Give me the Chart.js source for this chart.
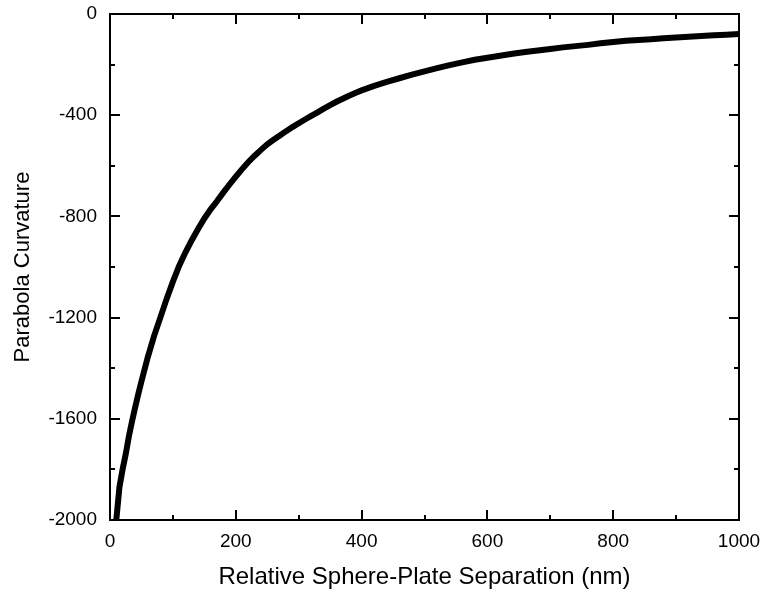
<!DOCTYPE html>
<html>
<head>
<meta charset="utf-8">
<script src="https://cdn.jsdelivr.net/npm/chart.js@4"></script>
<style>
  html, body { margin: 0; padding: 0; background: #fff; }
  #wrap { width: 762px; height: 594px; }
</style>
</head>
<body>
<div id="wrap"><canvas id="curv"></canvas></div>
<script>
// Separation (nm)
const separation = [
  10, 15, 20, 25, 30, 35, 40, 45, 50, 60, 70, 80, 90, 100,
  110, 120, 130, 140, 150, 160, 170, 180, 190, 200,
  210, 220, 230, 240, 250, 260, 270, 280, 290, 300,
  310, 320, 330, 340, 350, 360, 370, 380, 390, 400,
  420, 440, 460, 480, 500, 520, 540, 560, 580, 600,
  620, 640, 660, 680, 700, 720, 740, 760, 780, 800,
  820, 840, 860, 880, 900, 920, 940, 960, 980, 1000
];
// Parabola curvature at each separation
const curvature = [
  -2000, -1870, -1800, -1740, -1670, -1610, -1555, -1502, -1452, -1357, -1273, -1200, -1126, -1058,
  -995, -942, -894, -850, -808, -772, -740, -706, -674, -643,
  -613, -585, -560, -537, -515, -497, -480, -463, -447, -432,
  -417, -403, -389, -374, -360, -347, -335, -323, -312, -302,
  -284, -268, -254, -240, -227, -214, -202, -191, -181, -173,
  -165, -157, -150, -144, -138, -132, -127, -122, -116, -111,
  -106, -103, -100, -96, -93, -90, -87, -84, -82, -79
];
const xTicks = [0, 200, 400, 600, 800, 1000];
const yTicks = [0, -400, -800, -1200, -1600, -2000];

const points = separation.map((s, i) => ({ x: s, y: curvature[i] }));

// frame + inward ticks on all four sides
const framePlugin = {
  id: 'frame',
  afterDraw(chart) {
    const { ctx, chartArea: a, scales: { x, y } } = chart;
    ctx.save();
    ctx.strokeStyle = '#000';
    ctx.lineWidth = 2;
    ctx.strokeRect(a.left, a.top, a.right - a.left, a.bottom - a.top);
    ctx.beginPath();
    for (let v = 0; v <= 1000; v += 100) {
      const px = Math.round(x.getPixelForValue(v));
      const len = v % 200 === 0 ? 10 : 5;
      ctx.moveTo(px, a.bottom); ctx.lineTo(px, a.bottom - len);
      ctx.moveTo(px, a.top); ctx.lineTo(px, a.top + len);
    }
    for (let v = -2000; v <= 0; v += 200) {
      const py = Math.round(y.getPixelForValue(v));
      const len = v % 400 === 0 ? 10 : 5;
      ctx.moveTo(a.left, py); ctx.lineTo(a.left + len, py);
      ctx.moveTo(a.right, py); ctx.lineTo(a.right - len, py);
    }
    ctx.stroke();
    ctx.restore();
  }
};

const tickFont = { family: 'Arial, Liberation Sans', size: 19 };

const config = {
  type: 'scatter',
  data: {
    datasets: [{
      data: points,
      showLine: true,
      borderColor: '#000',
      backgroundColor: '#000',
      borderWidth: 6,
      pointStyle: 'rect',
      pointRadius: 2.5,
      pointBorderWidth: 0,
      tension: 0
    }]
  },
  options: {
    responsive: false,
    animation: false,
    layout: { padding: { left: 0, right: 23, top: 14, bottom: 0 } },
    plugins: { legend: { display: false }, tooltip: { enabled: false } },
    scales: {
      x: {
        type: 'linear', min: 0, max: 1000,
        afterBuildTicks: s => { s.ticks = xTicks.map(v => ({ value: v })); },
        afterFit: s => { s.height = 74; s.paddingLeft = 0; s.paddingRight = 0; },
        grid: { display: false, drawTicks: false },
        border: { display: false },
        ticks: { color: '#000', padding: 10, font: tickFont, callback: v => String(v) },
        title: { display: true, text: 'Relative Sphere-Plate Separation (nm)', color: '#000',
                 font: { family: 'Arial, Liberation Sans', size: 24 }, padding: { top: 0, bottom: 2 } }
      },
      y: {
        type: 'linear', min: -2000, max: 0,
        afterBuildTicks: s => { s.ticks = yTicks.map(v => ({ value: v })); },
        afterFit: s => { s.width = 110; s.paddingTop = 0; s.paddingBottom = 0; },
        grid: { display: false, drawTicks: false },
        border: { display: false },
        ticks: { color: '#000', padding: 13, font: tickFont, callback: v => String(v) },
        title: { display: true, text: 'Parabola Curvature', color: '#000',
                 font: { family: 'Arial, Liberation Sans', size: 22 }, padding: { top: 10, bottom: 0 } }
      }
    }
  },
  plugins: [framePlugin]
};

const canvas = document.getElementById('curv');
canvas.width = 762;
canvas.height = 594;
new Chart(canvas.getContext('2d'), config);
</script>
</body>
</html>
